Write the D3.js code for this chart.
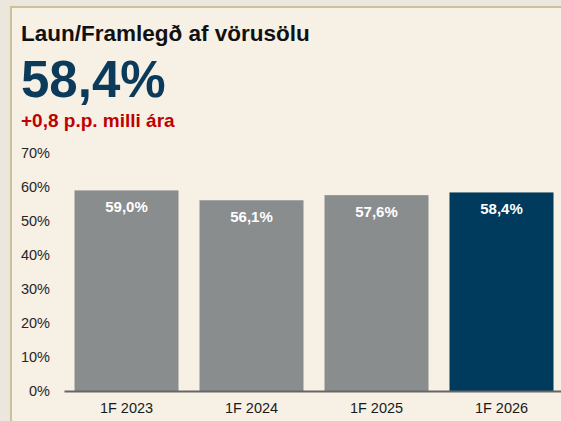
<!DOCTYPE html>
<html>
<head>
<meta charset="utf-8">
<script src="https://cdn.jsdelivr.net/npm/d3@7"></script>
<style>
  body { margin: 0; background: #ebe7dd; }
  svg, svg text { font-family: Arial, "Liberation Sans", Helvetica, sans-serif; }
  svg { display: block; }
</style>
</head>
<body>
<div id="chart"></div>
<script>
// data
const periods = ["1F 2023", "1F 2024", "1F 2025", "1F 2026"];
const values = [59.0, 56.1, 57.6, 58.4];
const yTicks = [0, 10, 20, 30, 40, 50, 60, 70];
const headline = "58,4%";
const change = "+0,8 p.p. milli ára";

const W = 561, H = 421;
const fmt = v => v.toFixed(1).replace(".", ",") + "%";

let svg = d3.select("#chart").append("svg")
  .attr("width", W)
  .attr("height", H);

// panel
svg.append("rect")
  .attr("x", 11).attr("y", 7)
  .attr("width", W + 10).attr("height", H)
  .attr("fill", "#f6f0e5")
  .attr("stroke", "#cdc09c")
  .attr("stroke-width", 2);

// headers
svg.append("text")
  .attr("x", 21).attr("y", 41)
  .attr("font-size", 22.5).attr("font-weight", "bold").attr("fill", "#111")
  .text("Laun/Framlegð af vörusölu");

svg.append("text")
  .attr("x", 21).attr("y", 97)
  .attr("font-size", 51).attr("font-weight", "bold").attr("fill", "#0b3a5b")
  .text(headline);

svg.append("text")
  .attr("x", 21).attr("y", 127)
  .attr("font-size", 19).attr("font-weight", "bold").attr("fill", "#c00000")
  .text(change);

// scales
let x = d3.scaleBand().domain(periods).range([64, 564])
  .paddingInner(0.168).paddingOuter(0.084);
let y = d3.scaleLinear().domain([0, 70]).range([391, 153]);

// y axis labels (no line)
let yAxis = svg.append("g")
  .attr("transform", "translate(64,0)")
  .call(d3.axisLeft(y).tickValues(yTicks).tickSize(0).tickPadding(14).tickFormat(d => d + "%"));
yAxis.attr("font-family", null);
yAxis.select(".domain").remove();
yAxis.selectAll("text")
  .attr("font-size", 14.5).attr("fill", "#262626");

// bars
let bars = svg.selectAll(".bar")
  .data(values)
  .enter().append("g")
  .attr("class", "bar");

bars.append("rect")
  .attr("x", (d, i) => x(periods[i]))
  .attr("y", d => y(d))
  .attr("width", x.bandwidth())
  .attr("height", d => y(0) - y(d))
  .attr("fill", (d, i) => i === values.length - 1 ? "#003a5c" : "#8a8d8e");

bars.append("text")
  .attr("x", (d, i) => x(periods[i]) + x.bandwidth() / 2)
  .attr("y", d => y(d) + 22)
  .attr("text-anchor", "middle")
  .attr("font-size", 15).attr("font-weight", "bold").attr("fill", "#fff")
  .text(d => fmt(d));

// x axis
let xAxis = svg.append("g")
  .attr("transform", "translate(0,391)")
  .call(d3.axisBottom(x).tickSize(0).tickPadding(12));
xAxis.attr("font-family", null);
xAxis.select(".domain").attr("stroke", "#666").attr("stroke-width", 2);
xAxis.selectAll("text")
  .attr("font-size", 14.5).attr("fill", "#1a1a1a");
</script>
</body>
</html>
